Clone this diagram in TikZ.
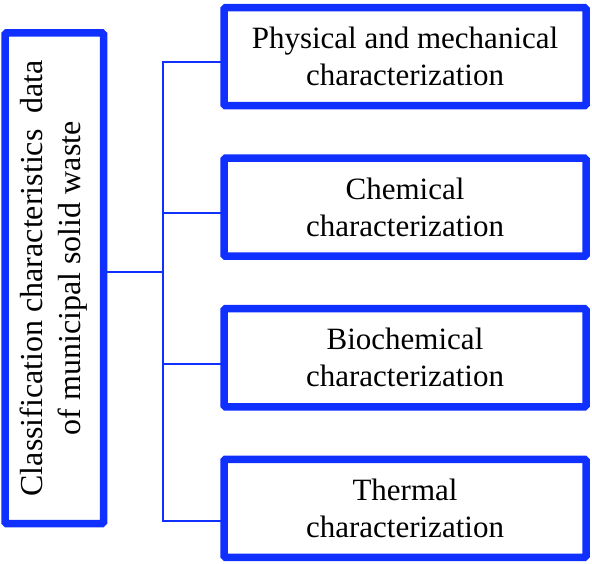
\documentclass[tikz,border=0pt]{standalone}
\usepackage{fontspec}
\setmainfont{Liberation Serif}
\usepackage{graphicx}
\usetikzlibrary{positioning, calc}
\definecolor{boxblue}{RGB}{16,48,255}
\tikzset{
  box/.style={rectangle, draw=boxblue, line width=7.5pt, rounded corners=1.5pt,
              fill=white, outer sep=0pt, align=center,
              font=\fontsize{31}{37}\selectfont},
  catbox/.style={box, minimum width=362pt, minimum height=98pt},
  link/.style={draw=boxblue, line width=1.8pt},
}

\begin{document}
\begin{tikzpicture}[x=1pt, y=1pt, node distance=52.5pt]
  \useasboundingbox (0,0) rectangle (592,563);

  % Main box
  \node[box, minimum width=98.5pt, minimum height=490.5pt,
        font=\fontsize{32}{38}\selectfont] (msw) at (54.25,284.75)
    {\rotatebox{90}{\begin{tabular}{@{}c@{}}Classification characteristics\ \ data\\
      of municipal solid waste\end{tabular}}};

  % Characterization boxes
  \node[catbox] (phys) at (405,506.25)
    {Physical and mechanical\\characterization};
  \node[catbox, below=of phys] (chem)
    {Chemical\\characterization};
  \node[catbox, below=of chem] (bioc)
    {Biochemical\\characterization};
  \node[catbox, below=of bioc] (therm)
    {Thermal\\characterization};

  % Links
  \coordinate (trunk) at ([xshift=59.8pt]msw.east);
  \draw[link] ([yshift=6pt]msw.east) -- ([yshift=6pt]msw.east -| trunk);
  \draw[link] ([yshift=-5pt]phys.west) -| ([yshift=-13pt]therm.west -| trunk)
    -- ([yshift=-13pt]therm.west);
  \foreach \n in {chem, bioc}
    \draw[link] ([yshift=-6pt]\n.west) -- ([yshift=-6pt]\n.west -| trunk);
\end{tikzpicture}
\end{document}
